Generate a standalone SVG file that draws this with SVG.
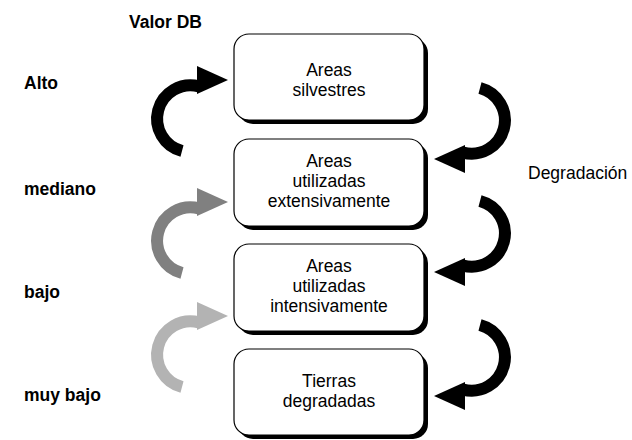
<svg xmlns="http://www.w3.org/2000/svg" xmlns:xlink="http://www.w3.org/1999/xlink" width="632" height="440" viewBox="0 0 632 440">
<style>
.lbl{font-family:"Liberation Sans",Arial,sans-serif;font-size:17.5px;font-weight:bold;fill:#000}
.txt{font-family:"Liberation Sans",Arial,sans-serif;font-size:17.5px;fill:#000;text-anchor:middle}
.deg{font-family:"Liberation Sans",Arial,sans-serif;font-size:17.5px;fill:#000}
.shadow{fill:#000}
.box{fill:#fff;stroke:#000;stroke-width:1.2}
</style>
<defs>
<g id="curved">
<path d="M 182 151 A 33 33 0 0 1 199 86.4" fill="none" stroke="currentColor" stroke-width="12"/>
<polygon points="197,66 228,80 197,94" fill="currentColor"/>
</g>
</defs>
<rect width="632" height="440" fill="#fff"/>
<text class="lbl" x="129" y="28">Valor DB</text>
<text class="lbl" x="24" y="89">Alto</text>
<text class="lbl" x="24" y="195">mediano</text>
<text class="lbl" x="24" y="298">bajo</text>
<text class="lbl" x="24" y="401">muy bajo</text>
<text class="deg" x="528" y="179">Degradación</text>
<g id="connectors">
<use xlink:href="#curved" style="color:#000"/>
<use xlink:href="#curved" style="color:#808080" transform="translate(0,122)"/>
<use xlink:href="#curved" style="color:#b3b3b3" transform="translate(0,236)"/>
<use xlink:href="#curved" style="color:#000" transform="rotate(180 331 119.5)"/>
<use xlink:href="#curved" style="color:#000" transform="translate(0,113) rotate(180 331 119.5)"/>
<use xlink:href="#curved" style="color:#000" transform="translate(0,237) rotate(180 331 119.5)"/>
</g>
<g id="node1">
<rect class="shadow" x="238" y="38" width="190" height="86" rx="15"/>
<rect class="box" x="234" y="34" width="190" height="86" rx="15"/>
<text class="txt" x="329" y="76">Areas</text>
<text class="txt" x="329" y="96">silvestres</text>
</g>
<g id="node2">
<rect class="shadow" x="238" y="143" width="190" height="87" rx="15"/>
<rect class="box" x="234" y="139" width="190" height="87" rx="15"/>
<text class="txt" x="329" y="167">Areas</text>
<text class="txt" x="329" y="187">utilizadas</text>
<text class="txt" x="329" y="207">extensivamente</text>
</g>
<g id="node3">
<rect class="shadow" x="238" y="248" width="190" height="87" rx="15"/>
<rect class="box" x="234" y="244" width="190" height="87" rx="15"/>
<text class="txt" x="329" y="272">Areas</text>
<text class="txt" x="329" y="292">utilizadas</text>
<text class="txt" x="329" y="312">intensivamente</text>
</g>
<g id="node4">
<rect class="shadow" x="238" y="353" width="190" height="86" rx="15"/>
<rect class="box" x="234" y="349" width="190" height="86" rx="15"/>
<text class="txt" x="329" y="387">Tierras</text>
<text class="txt" x="329" y="407">degradadas</text>
</g>
</svg>
